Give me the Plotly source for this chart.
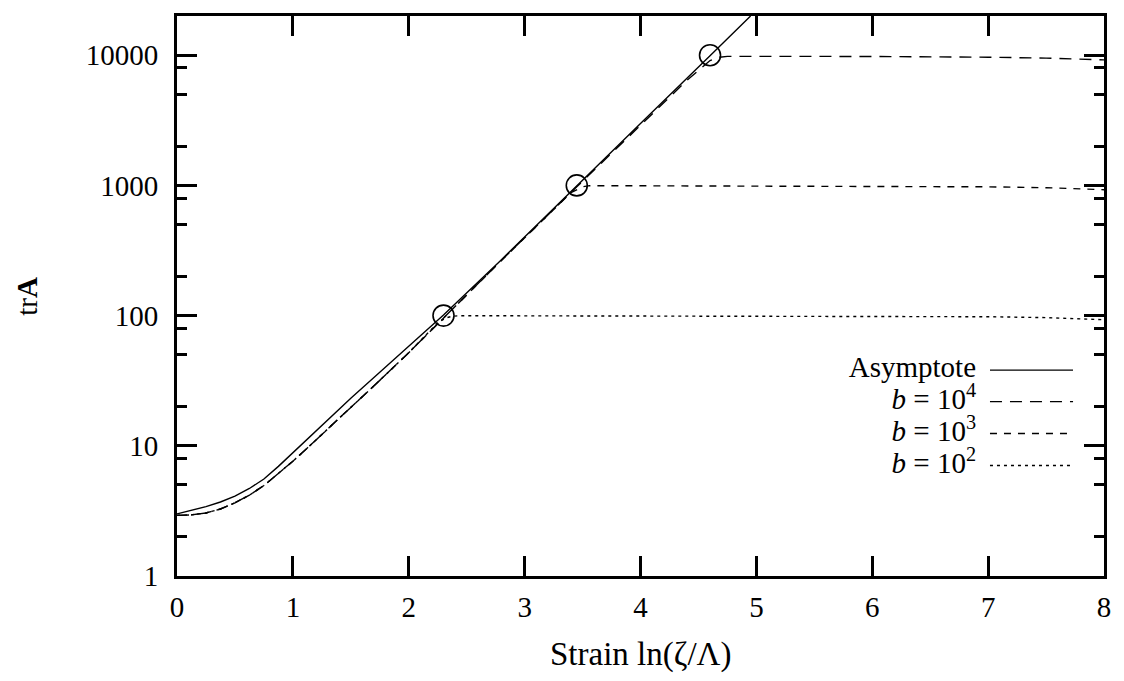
import plotly.graph_objects as go

# ---------------- data ----------------
asym_x = [0, 0.125, 0.25, 0.375, 0.5, 0.625, 0.75, 0.875, 1.0, 1.125, 1.25, 1.5, 1.75, 2.0,
          2.3, 2.8, 3.45, 4.0, 4.6, 4.95]
asym_y = [3.0, 3.18, 3.41, 3.7, 4.1, 4.7, 5.56, 6.95, 8.87, 11.3, 14.4, 23.2, 36.7, 58.2,
          101, 269, 1000, 2985, 9890, 20000]

base_x = [0, 0.125, 0.25, 0.375, 0.5, 0.625, 0.75, 0.875, 1.0, 1.125, 1.25, 1.5, 1.75, 2.0]
base_y = [2.92, 2.95, 3.05, 3.27, 3.65, 4.18, 4.95, 6.1, 7.62, 9.62, 12.2, 19.6, 31.8, 51.9]

b2_x = base_x + [2.15, 2.25, 2.32, 2.38, 2.45, 3, 4, 5, 6, 7, 7.5, 8]
b2_y = base_y + [72, 88, 96, 99, 99.8, 99.6, 99.4, 99.2, 98.8, 98, 96.5, 93]

b3_x = base_x + [2.3, 2.8, 3.2, 3.4, 3.5, 3.56, 4, 5, 6, 7, 7.5, 8]
b3_y = base_y + [96, 265, 590, 880, 975, 995, 993, 990, 985, 975, 960, 927]

b4_x = base_x + [2.3, 2.8, 3.45, 4.0, 4.4, 4.6, 4.68, 4.75, 5, 6, 7, 7.5, 8]
b4_y = base_y + [96, 266, 975, 2880, 6400, 9100, 9650, 9800, 9800, 9780, 9650, 9500, 9200]

circle_x = [2.3, 3.45, 4.6]
circle_y = [100, 1000, 10000]

x_ticks = [0, 1, 2, 3, 4, 5, 6, 7, 8]
y_ticks = [1, 10, 100, 1000, 10000]
y_ticktext = ["1", "10", "100", "1000", "10000"]
y_minor = [m * 10 ** k for k in range(4) for m in (2, 5, 8)]

legend_labels = ["Asymptote", "<i>b</i> = 10<sup>4</sup>", "<i>b</i> = 10<sup>3</sup>", "<i>b</i> = 10<sup>2</sup>"]
legend_dashes = ["solid", "12px,8px", "7px,7px", "3px,4px"]

FONT = "Liberation Serif"
LW = 1.4

fig = go.Figure()
series = [(asym_x, asym_y), (b4_x, b4_y), (b3_x, b3_y), (b2_x, b2_y)]
for (xs, ys), dsh in zip(series, legend_dashes):
    fig.add_trace(go.Scatter(x=xs, y=ys, mode="lines", line=dict(color="black", width=LW, dash=dsh),
                             showlegend=False, hoverinfo="skip"))
fig.add_trace(go.Scatter(x=circle_x, y=circle_y, mode="markers",
                         marker=dict(symbol="circle-open", size=21, color="black", line=dict(width=1.6, color="black")),
                         showlegend=False))

# manual legend: text right-aligned (overlay axes in [0,1]), line samples on the right
row_y = [0.3677, 0.3114, 0.2545, 0.1972]
fig.add_trace(go.Scatter(x=[0.862] * 4, y=row_y, mode="text", text=legend_labels, textposition="middle left",
                         textfont=dict(family=FONT, size=29, color="black"), xaxis="x2", yaxis="y2",
                         showlegend=False, hoverinfo="skip", cliponaxis=False))
shapes = []
for dsh, yy in zip(legend_dashes, row_y):
    shapes.append(dict(type="line", xref="paper", yref="paper", x0=0.877, x1=0.9666, y0=yy, y1=yy,
                       line=dict(color="black", width=LW, dash=dsh)))

annotations = [
    dict(x=0.5, y=-0.14, xref="paper", yref="paper", text="Strain ln(ζ/Λ)", showarrow=False,
         xanchor="center", yanchor="middle", font=dict(family=FONT, size=33, color="black")),
    dict(x=-0.162, y=0.5, xref="paper", yref="paper", text="tr<b>A</b>", showarrow=False,
         textangle=-90, xanchor="center", yanchor="middle", font=dict(family=FONT, size=29, color="black")),
]

axis_common = dict(showline=True, linecolor="black", linewidth=3, mirror="ticks", ticks="inside",
                   tickcolor="black", tickwidth=2.5, ticklen=20, showgrid=False, zeroline=False,
                   tickfont=dict(family=FONT, size=29, color="black"))

fig.update_layout(
    width=1116, height=673,
    margin=dict(l=169, r=20, t=5, b=105),
    paper_bgcolor="white", plot_bgcolor="white",
    xaxis=dict(range=[0, 8], tickmode="array", tickvals=x_ticks, ticklabelstandoff=3, **axis_common),
    yaxis=dict(type="log", range=[0, 4.30103], tickmode="array", tickvals=y_ticks, ticktext=y_ticktext,
               ticklabelstandoff=10,
               minor=dict(tickmode="array", tickvals=y_minor, ticks="inside", ticklen=10, tickwidth=2.5,
                          tickcolor="black", showgrid=False),
               **axis_common),
    xaxis2=dict(overlaying="x", range=[0, 1], visible=False, fixedrange=True),
    yaxis2=dict(overlaying="y", range=[0, 1], visible=False, fixedrange=True),
    annotations=annotations, shapes=shapes,
    showlegend=False,
)

fig.write_html("out.html")
